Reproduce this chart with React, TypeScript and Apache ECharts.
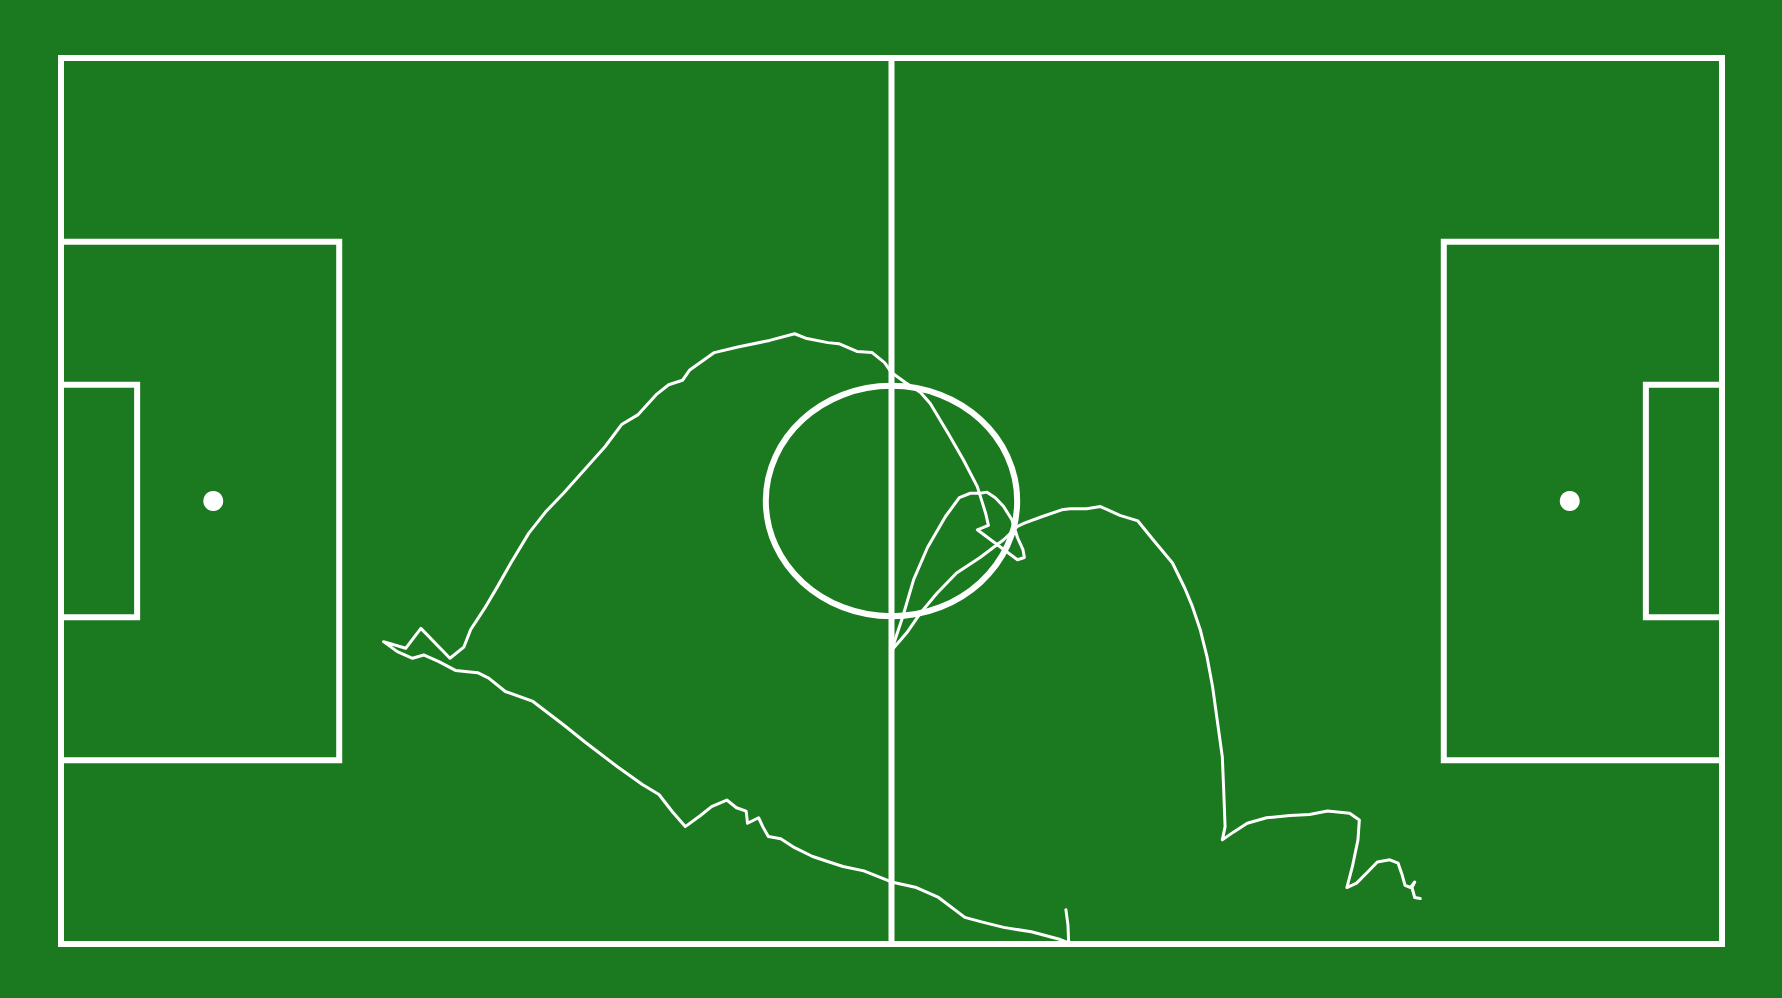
import React, { useEffect, useRef } from "react";
import * as echarts from "echarts";

// Pitch in data units (0–120 along the length, 0–80 across; y grows downwards)
const PITCH_LENGTH = 120;
const PITCH_WIDTH = 80;

const OUTLINE: number[][] = [[0, 0], [120, 0], [120, 80], [0, 80], [0, 0]];
const HALFWAY: number[][] = [[60, 0], [60, 80]];
const LEFT_BOX: number[][] = [[0, 16.6], [20.1, 16.6], [20.1, 63.4], [0, 63.4]];
const RIGHT_BOX: number[][] = [[120, 16.6], [99.9, 16.6], [99.9, 63.4], [120, 63.4]];
const LEFT_SIX: number[][] = [[0, 29.5], [5.5, 29.5], [5.5, 50.5], [0, 50.5]];
const RIGHT_SIX: number[][] = [[120, 29.5], [114.5, 29.5], [114.5, 50.5], [120, 50.5]];
const SPOTS: number[][] = [[11, 40], [109, 40]];
// centre x, centre y, radius along x, radius along y
const CENTRE_CIRCLE: number[][] = [[60, 40, 9.08, 10.4]];

// Player track, in order
const TRACK_BOTTOM: number[][] = [
  [72.6, 76.9], [72.75, 78.3], [72.8, 79.9], [72.2, 79.6], [70.1, 78.9], [68.1, 78.5],
  [66.5, 78.0], [65.3, 77.6], [63.4, 75.8], [61.8, 74.9], [60.0, 74.4], [58.0, 73.4],
  [56.5, 73.0], [55.5, 72.6], [54.3, 72.1], [53.0, 71.3], [52.0, 70.5], [51.1, 70.3],
  [50.7, 69.4], [50.4, 68.6], [49.6, 69.1], [49.5, 68.0], [48.8, 67.7], [48.1, 67.0],
  [47.0, 67.6], [46.2, 68.4], [45.1, 69.4], [44.2, 68.1], [43.2, 66.5], [42.0, 65.6],
  [40.2, 64.0], [37.9, 61.8], [36.3, 60.2], [34.1, 58.1], [32.1, 57.2], [30.9, 56.0],
  [30.1, 55.5], [28.5, 55.3], [27.3, 54.5], [26.2, 53.9], [25.4, 54.2],
];
const TRACK_TAIL: number[][] = [
  [24.3, 53.6], [23.3, 52.7], [24.9, 53.3], [26.0, 51.5], [28.1, 54.2], [29.1, 53.2],
];
const TRACK_ARC: number[][] = [
  [29.6, 51.6], [30.6, 49.7], [31.5, 47.8], [32.5, 45.6], [33.8, 42.9], [35.0, 41.0],
  [36.3, 39.3], [37.8, 37.2], [39.3, 35.1], [40.5, 33.1], [41.7, 32.2], [43.0, 30.4],
  [43.9, 29.5], [44.9, 29.1], [45.4, 28.2], [47.2, 26.6], [48.9, 26.1], [51.2, 25.5],
  [53.0, 24.9], [53.8, 25.3], [55.4, 25.7], [56.2, 25.8], [57.5, 26.5], [58.6, 26.6],
  [59.5, 27.5], [60.0, 28.4], [61.0, 29.3], [62.1, 30.2], [62.8, 31.2], [64.1, 33.9],
  [65.2, 36.3], [66.2, 38.7], [66.5, 39.9], [66.8, 41.1], [67.0, 42.2],
];
const TRACK_CENTRE: number[][] = [
  [66.2, 42.6], [69.1, 45.3], [69.6, 45.1], [69.5, 44.4], [69.1, 43.3], [68.7, 41.7],
  [68.1, 40.5], [67.5, 39.7], [66.9, 39.2], [66.4, 39.3], [65.7, 39.3], [64.9, 39.7],
  [63.9, 41.4], [62.6, 44.2], [61.6, 47.1], [60.8, 50.5], [60.0, 53.5], [61.1, 51.9],
  [62.1, 50.1], [63.3, 48.3], [64.7, 46.5], [66.4, 45.1], [68.1, 43.5], [69.1, 42.3],
];
const TRACK_RIGHT: number[][] = [
  [69.6, 42.0], [70.9, 41.4], [72.3, 40.8], [72.9, 40.7], [74.1, 40.7], [75.1, 40.5],
  [76.5, 41.3], [77.8, 41.8], [78.9, 43.5], [80.3, 45.6], [81.2, 47.9], [81.7, 49.4],
  [82.3, 51.6], [82.8, 54.1], [83.2, 56.8], [83.5, 59.5], [83.9, 63.1], [84.0, 66.1],
  [84.1, 69.4], [83.9, 70.6], [84.7, 69.9], [85.7, 69.1], [87.1, 68.6], [88.8, 68.4],
  [90.2, 68.3], [91.5, 68.0], [93.1, 68.2], [93.8, 68.8], [93.7, 70.6], [93.3, 73.0],
  [92.9, 74.9], [93.6, 74.5], [94.4, 73.5], [95.1, 72.6], [96.0, 72.4], [96.6, 72.7],
  [96.9, 73.8], [97.1, 74.7], [97.5, 74.9], [97.8, 74.4], [97.6, 74.9], [97.8, 75.8],
  [98.2, 75.9],
];

const GRASS = "#1b7a20";
const LINE = "#ffffff";

export default function App() {
  const ref = useRef<HTMLDivElement>(null);

  useEffect(() => {
    if (!ref.current) return;
    const chart = echarts.init(ref.current, undefined, { renderer: "svg" });
    const track = [
      ...TRACK_BOTTOM,
      ...TRACK_TAIL,
      ...TRACK_ARC,
      ...TRACK_CENTRE,
      ...TRACK_RIGHT,
    ];
    const pitchLines = [OUTLINE, HALFWAY, LEFT_BOX, RIGHT_BOX, LEFT_SIX, RIGHT_SIX].map(
      (c) => ({ coords: c })
    );
    chart.setOption({
      animation: false,
      backgroundColor: GRASS,
      grid: { left: 61, top: 58, width: 1661, height: 886, containLabel: false },
      xAxis: {
        type: "value",
        min: 0,
        max: PITCH_LENGTH,
        show: false,
        splitLine: { show: false },
      },
      yAxis: {
        type: "value",
        min: 0,
        max: PITCH_WIDTH,
        inverse: true,
        show: false,
        splitLine: { show: false },
      },
      series: [
        {
          type: "lines",
          coordinateSystem: "cartesian2d",
          polyline: true,
          silent: true,
          z: 1,
          lineStyle: { color: LINE, width: 6, opacity: 1, cap: "square", join: "miter" },
          data: pitchLines,
        },
        {
          type: "custom",
          coordinateSystem: "cartesian2d",
          silent: true,
          z: 1,
          data: CENTRE_CIRCLE,
          renderItem: (params: any, api: any) => {
            const c = api.coord([api.value(0), api.value(1)]);
            const s = api.size([api.value(2), api.value(3)]);
            return {
              type: "ellipse",
              shape: { cx: c[0], cy: c[1], rx: Math.abs(s[0]), ry: Math.abs(s[1]) },
              style: { fill: "none", stroke: LINE, lineWidth: 6 },
            };
          },
        },
        {
          type: "scatter",
          silent: true,
          z: 1,
          symbolSize: 20,
          itemStyle: { color: LINE, opacity: 1 },
          data: SPOTS,
        },
        {
          type: "line",
          z: 3,
          silent: true,
          showSymbol: false,
          symbol: "none",
          lineStyle: { color: LINE, width: 3, cap: "round", join: "round" },
          data: track,
        },
      ],
    });
    return () => chart.dispose();
  }, []);

  return (
    <div
      ref={ref}
      style={{ position: "fixed", left: 0, top: 0, width: 1782, height: 998 }}
    />
  );
}
